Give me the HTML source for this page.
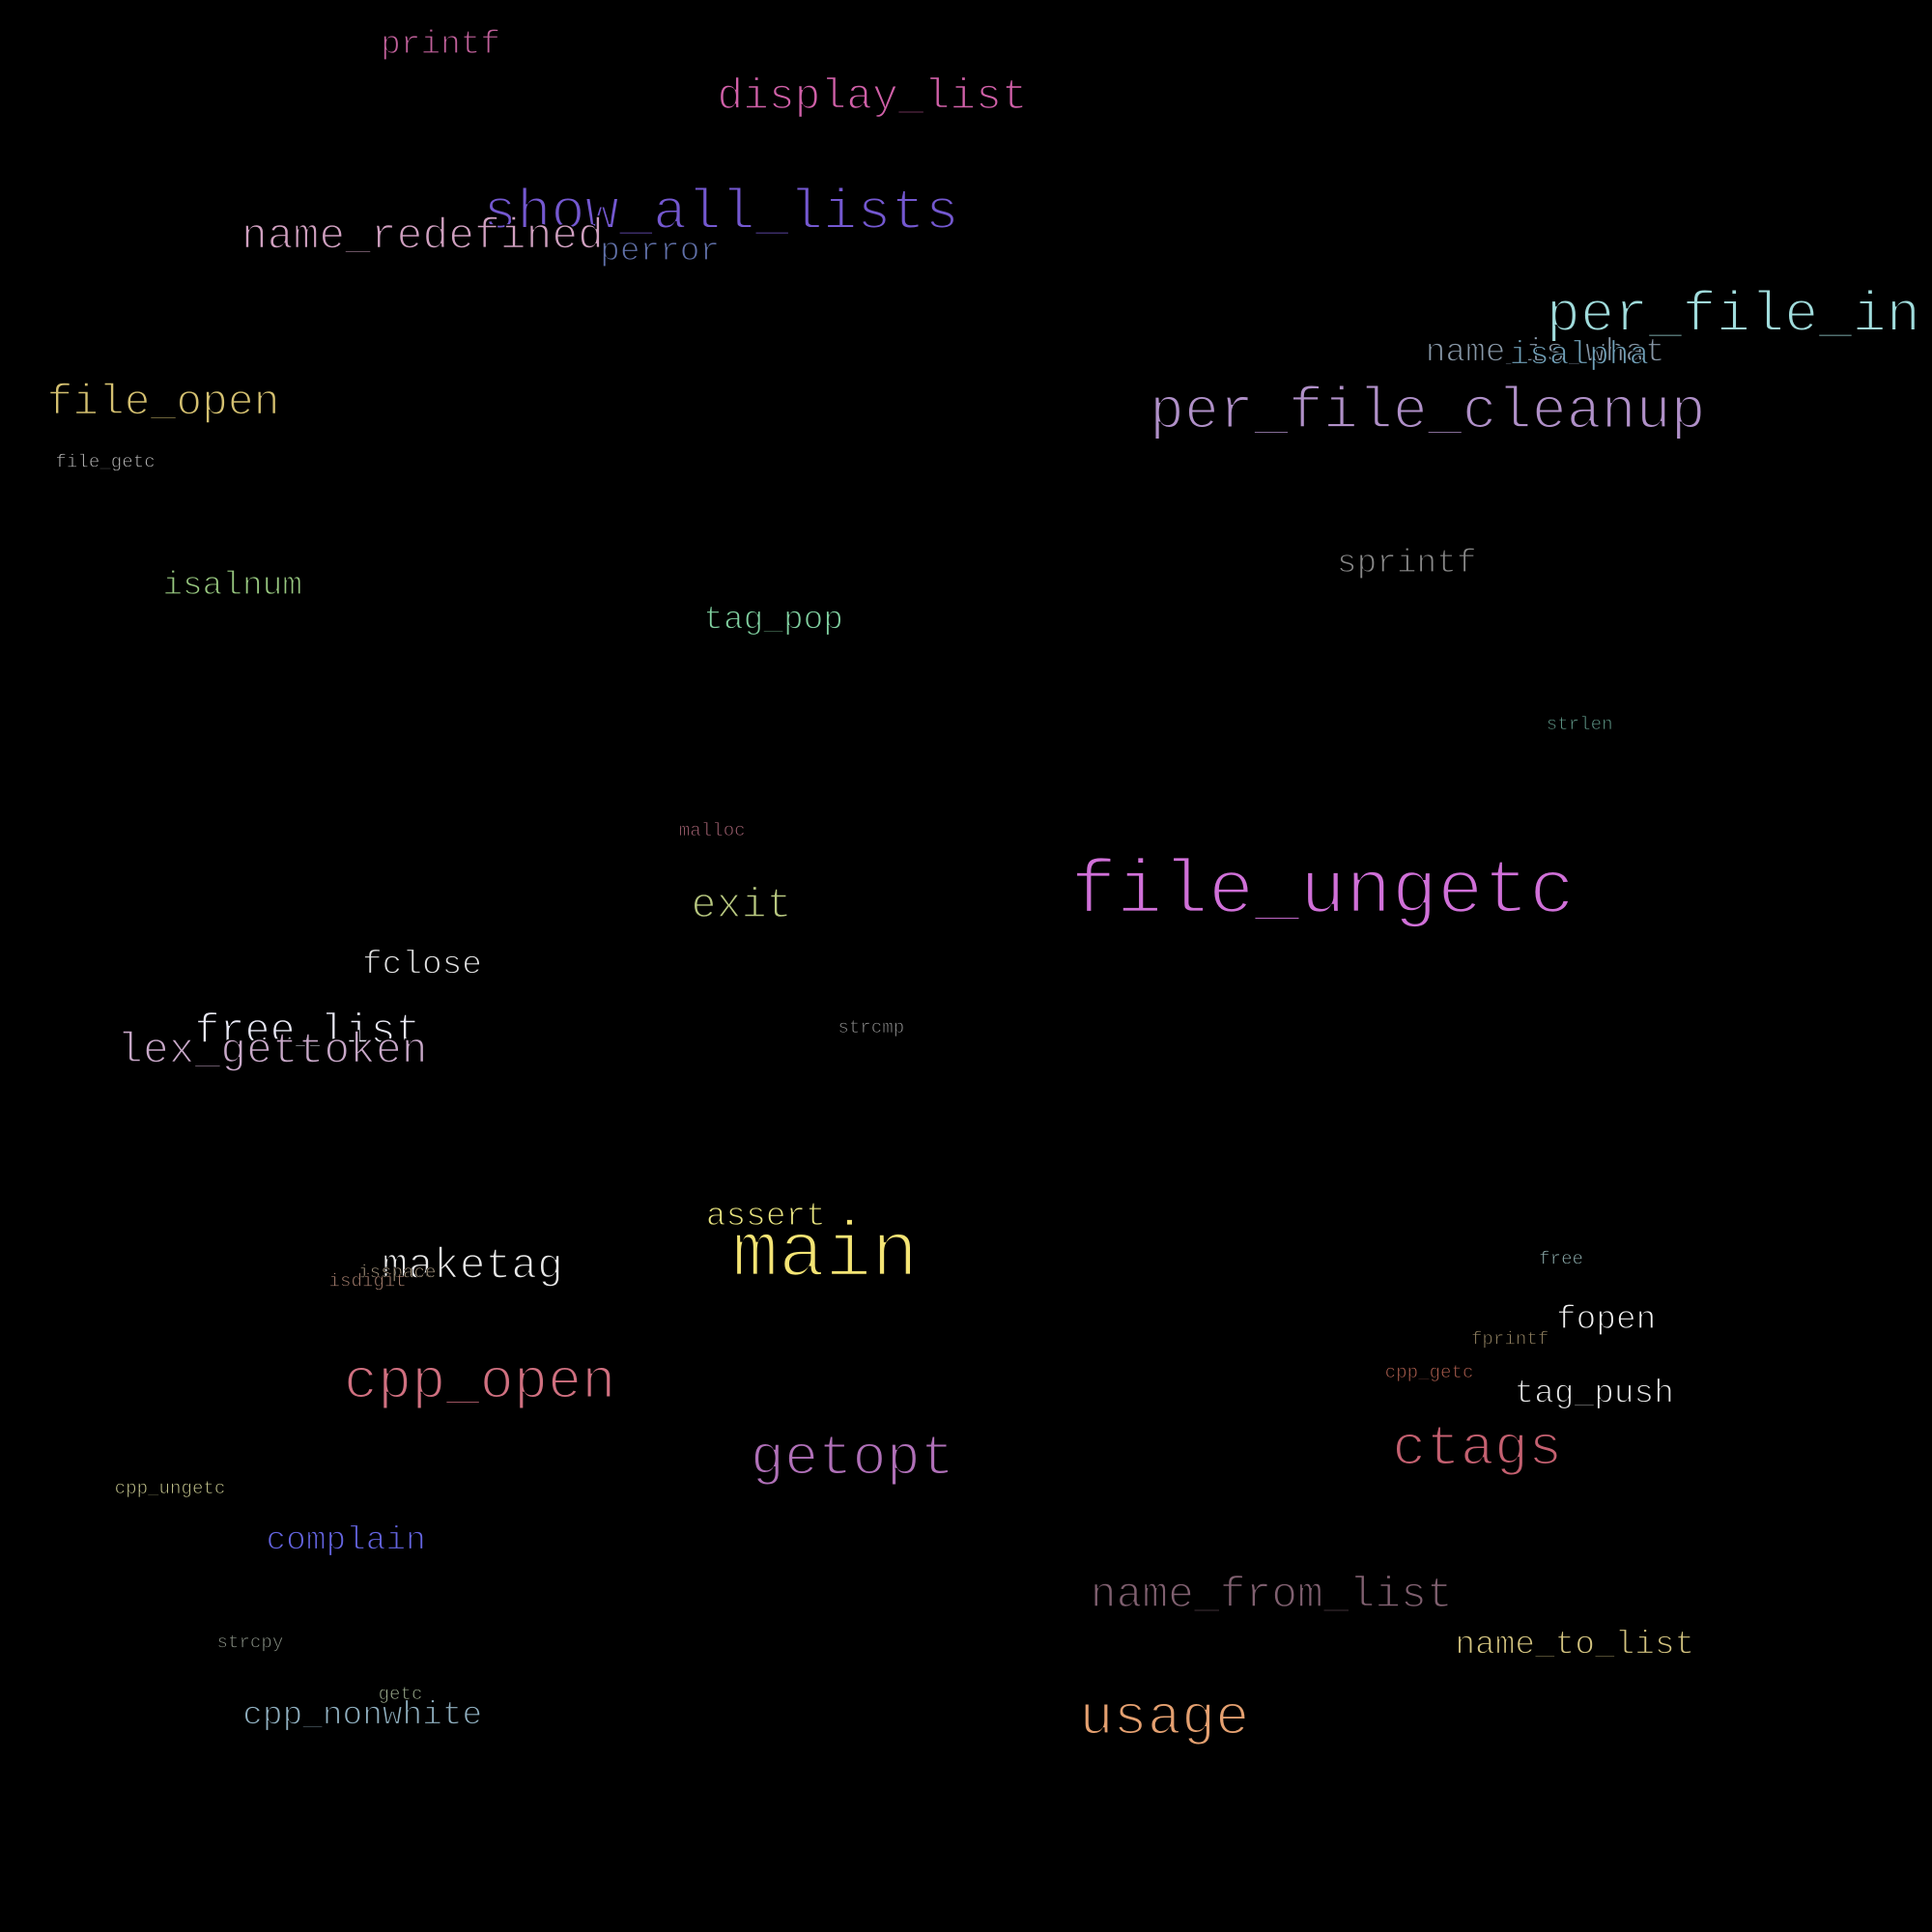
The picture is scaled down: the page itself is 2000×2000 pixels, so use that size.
<!DOCTYPE html>
<html><head><meta charset="utf-8"><style>
html,body{margin:0;padding:0;background:#000;width:2000px;height:2000px;overflow:hidden}
svg{display:block}
text{font-family:"Liberation Mono","DejaVu Sans Mono",monospace;white-space:pre;stroke:#000;stroke-width:0.035em;paint-order:fill}
</style></head><body>
<svg width="2000" height="2000" viewBox="0 0 1568 1568" xmlns="http://www.w3.org/2000/svg">
<rect width="1568" height="1568" fill="#000"/>
<text x="309" y="43" font-size="27" fill="#c0609a">printf</text>
<text x="582" y="88" font-size="35" fill="#d060a8">display_list</text>
<text x="392" y="185" font-size="46" fill="#7458d0">show_all_lists</text>
<text x="196" y="201" font-size="35" fill="#d0a0c0">name_redefined</text>
<text x="487" y="211" font-size="27" fill="#6070a8">perror</text>
<text x="1255" y="268" font-size="46" fill="#a0dcdc">per_file_in</text>
<text x="1157" y="293" font-size="27" fill="#8898a8">name_is_what</text>
<text x="1225" y="295" font-size="27" fill="#70a0b8">isalpha</text>
<text x="933" y="347" font-size="47" fill="#b090c8">per_file_cleanup</text>
<text x="38" y="336" font-size="35" fill="#d4c070">file_open</text>
<text x="45" y="379" font-size="15" fill="#b8b8b8">file_getc</text>
<text x="132" y="482" font-size="27" fill="#98c880">isalnum</text>
<text x="571" y="510" font-size="27" fill="#80d0a0">tag_pop</text>
<text x="1085" y="464" font-size="27" fill="#888888">sprintf</text>
<text x="1255" y="592" font-size="15" fill="#609888">strlen</text>
<text x="551" y="678" font-size="15" fill="#a06070">malloc</text>
<text x="561" y="744" font-size="34" fill="#b8c880">exit</text>
<text x="869" y="740" font-size="62" fill="#d070d8">file_ungetc</text>
<text x="294" y="790" font-size="27" fill="#e0e0e0">fclose</text>
<text x="158" y="846" font-size="34" fill="#e8e8f4">free_list</text>
<text x="95" y="862" font-size="35" fill="#c8a8c8">lex_gettoken</text>
<text x="680" y="838" font-size="15" fill="#909090">strcmp</text>
<text x="573" y="994" font-size="27" fill="#e8e480">assert</text>
<text x="594" y="1035" font-size="63" fill="#f4e474">main</text>
<text x="310" y="1037" font-size="35" fill="#e8e8e8">maketag</text>
<text x="291" y="1037" font-size="15" fill="#a89880">isspace</text>
<text x="267" y="1044" font-size="15" fill="#a88070">isdigit</text>
<text x="1249" y="1026" font-size="15" fill="#90b0b0">free</text>
<text x="1263" y="1078" font-size="27" fill="#f0f0f0">fopen</text>
<text x="1194" y="1091" font-size="15" fill="#908060">fprintf</text>
<text x="1124" y="1118" font-size="15" fill="#b06050">cpp_getc</text>
<text x="1229" y="1138" font-size="27" fill="#e4e4e4">tag_push</text>
<text x="279" y="1134" font-size="46" fill="#d07080">cpp_open</text>
<text x="1130" y="1188" font-size="46" fill="#c46070">ctags</text>
<text x="609" y="1196" font-size="46" fill="#b070b8">getopt</text>
<text x="93" y="1212" font-size="15" fill="#c8c890">cpp_ungetc</text>
<text x="216" y="1257" font-size="27" fill="#6464e0">complain</text>
<text x="885" y="1304" font-size="35" fill="#806070">name_from_list</text>
<text x="1181" y="1342" font-size="27" fill="#d4c480">name_to_list</text>
<text x="176" y="1337" font-size="15" fill="#8c9488">strcpy</text>
<text x="307" y="1379" font-size="15" fill="#a0b090">getc</text>
<text x="197" y="1399" font-size="27" fill="#90b0c0">cpp_nonwhite</text>
<text x="876" y="1407" font-size="46" fill="#e4a070">usage</text>
</svg>
</body></html>
